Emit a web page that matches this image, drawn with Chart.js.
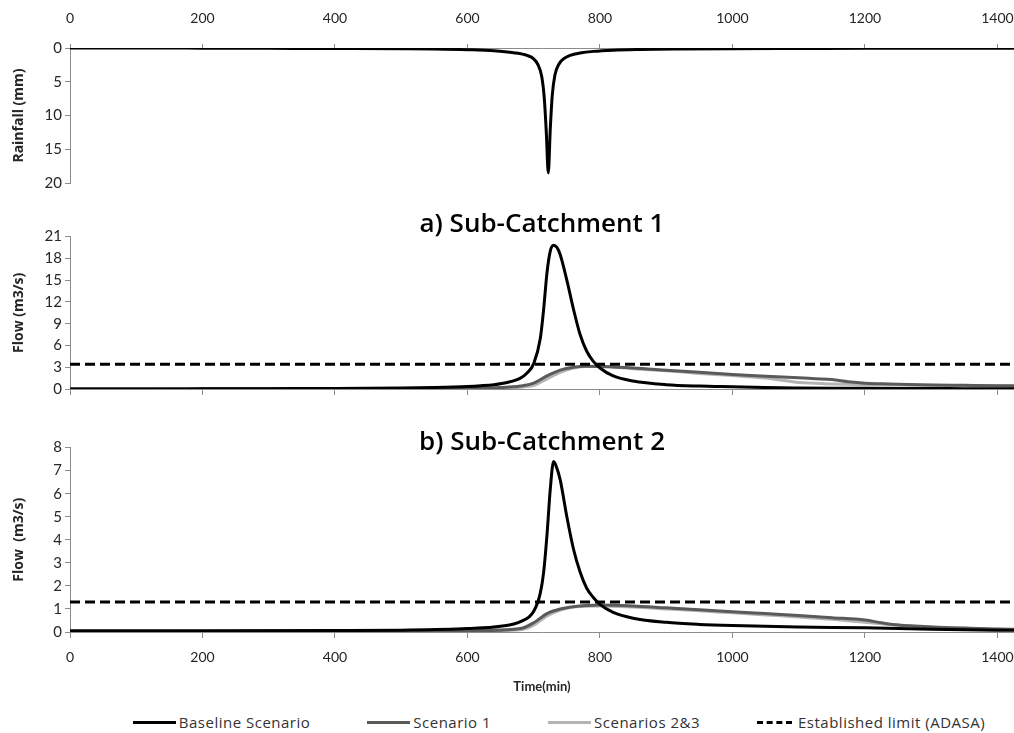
<!DOCTYPE html>
<html>
<head>
<meta charset="utf-8">
<script src="https://cdn.jsdelivr.net/npm/chart.js@4.4.1/dist/chart.umd.min.js"></script>
<style>
  html, body { margin: 0; padding: 0; background: #fff; }
  body { width: 1014px; height: 733px; position: relative; overflow: hidden; font-family: "Open Sans", Lato, sans-serif; }
  .box { position: absolute; left: 0; width: 1014px; }
  #rainBox { top: 0; height: 192px; }
  #sc1Box { top: 192px; height: 210px; }
  #sc2Box { top: 402px; height: 298px; }
  #legend { position: absolute; top: 712px; left: 52px; width: 1014px; display: flex; justify-content: center; gap: 57px; font-size: 15px; letter-spacing: 0.5px; color: #333; }
  #legend .item { display: flex; align-items: center; }
  #legend .swatch { width: 43px; height: 0; margin-right: 3px; }
</style>
</head>
<body>
<div class="box" id="rainBox"><canvas id="rainChart"></canvas></div>
<div class="box" id="sc1Box"><canvas id="sc1Chart"></canvas></div>
<div class="box" id="sc2Box"><canvas id="sc2Chart"></canvas></div>
<div id="legend"></div>
<script>
// rainfall (mm)
const rainTime = [0, 100, 200, 300, 400, 500, 550, 600, 640, 670, 690, 700, 706, 712, 716, 719, 722, 725, 728, 732, 738, 745, 755, 770, 790, 820, 860, 920, 1000, 1100, 1200, 1300, 1440];
const rainValues = [0, 0, 0.02, 0.05, 0.08, 0.12, 0.16, 0.25, 0.4, 0.7, 1.1, 1.6, 2.4, 4.2, 7.5, 12.5, 18.5, 12, 7, 4, 2.4, 1.6, 1.1, 0.75, 0.5, 0.32, 0.22, 0.15, 0.1, 0.07, 0.05, 0.03, 0.02];

// sub-catchment 1 flow (m3/s)
const sc1BaseTime = [0, 100, 200, 300, 400, 500, 550, 600, 620, 640, 660, 680, 690, 700, 710, 715, 720, 725, 730, 735, 740, 750, 760, 770, 780, 790, 800, 820, 850, 900, 950, 1000, 1050, 1100, 1150, 1200, 1250, 1300, 1350, 1400, 1440];
const sc1Base = [0, 0, 0.02, 0.05, 0.08, 0.15, 0.22, 0.35, 0.45, 0.6, 0.9, 1.5, 2.2, 3.5, 7, 11, 16, 19, 19.8, 19.5, 18.5, 15, 11, 7.5, 5.2, 3.8, 2.9, 1.8, 1.1, 0.6, 0.4, 0.3, 0.2, 0.15, 0.12, 0.1, 0.08, 0.06, 0.05, 0.04, 0.03];
const sc1ScenTime = [0, 300, 500, 600, 650, 680, 700, 720, 740, 760, 780, 800, 850, 900, 950, 1000, 1050, 1075, 1100, 1125, 1150, 1175, 1200, 1225, 1250, 1300, 1350, 1400, 1440];
const sc1Scen1 = [0, 0.02, 0.05, 0.1, 0.2, 0.4, 0.8, 1.8, 2.6, 3.0, 3.15, 3.1, 2.9, 2.6, 2.3, 2.0, 1.75, 1.65, 1.55, 1.42, 1.3, 1.0, 0.8, 0.72, 0.65, 0.55, 0.5, 0.45, 0.42];
const sc1Scen23 = [0, 0.02, 0.04, 0.08, 0.12, 0.25, 0.5, 1.4, 2.3, 2.9, 3.1, 3.1, 2.8, 2.5, 2.15, 1.85, 1.5, 1.2, 0.9, 0.8, 0.7, 0.65, 0.6, 0.57, 0.55, 0.5, 0.45, 0.4, 0.38];
const sc1Limit = [3.4, 3.4];

// sub-catchment 2 flow (m3/s)
const sc2BaseTime = [0, 200, 400, 500, 600, 650, 680, 700, 710, 715, 720, 725, 730, 735, 740, 750, 760, 770, 780, 790, 800, 820, 850, 900, 950, 1000, 1100, 1200, 1300, 1400, 1440];
const sc2Base = [0.05, 0.05, 0.06, 0.08, 0.15, 0.25, 0.45, 0.9, 1.7, 2.6, 4.2, 6.2, 7.4, 7.1, 6.6, 5.0, 3.6, 2.6, 1.9, 1.5, 1.2, 0.85, 0.6, 0.42, 0.33, 0.28, 0.22, 0.18, 0.12, 0.08, 0.07];
const sc2ScenTime = [0, 400, 600, 680, 700, 720, 740, 760, 780, 800, 850, 900, 950, 1000, 1050, 1100, 1150, 1200, 1225, 1250, 1300, 1350, 1400, 1440];
const sc2Scen1 = [0.02, 0.03, 0.05, 0.15, 0.4, 0.8, 1.0, 1.1, 1.15, 1.17, 1.13, 1.05, 0.97, 0.88, 0.8, 0.72, 0.62, 0.52, 0.4, 0.3, 0.22, 0.17, 0.13, 0.12];
const sc2Scen23 = [0.02, 0.03, 0.04, 0.1, 0.3, 0.7, 0.95, 1.08, 1.12, 1.13, 1.08, 1.0, 0.92, 0.83, 0.74, 0.65, 0.55, 0.42, 0.36, 0.3, 0.22, 0.16, 0.12, 0.11];
const sc2Limit = [1.3, 1.3];

const limitTime = [0, 1440];
const xTicks = [0, 200, 400, 600, 800, 1000, 1200, 1400];
const seriesNames = ["Baseline Scenario", "Scenario 1", "Scenarios 2&3", "Established limit (ADASA)"];

const colors = ["#000000", "#5a5a5a", "#b4b4b4", "#000000"];
const axisGray = "#8c8c8c";
const textColor = "#262626";
const tickFont = "Lato, 'Open Sans', sans-serif";
const titleFont = "'Open Sans', Lato, sans-serif";

function pts(xs, ys) {
  return xs.map((x, i) => ({ x: x, y: ys[i] }));
}

function fixY(scale) {
  scale.width = 70;
  scale.paddingTop = 0;
  scale.paddingBottom = 0;
}
function fixX(h) {
  return function (scale) {
    scale.height = h;
    scale.paddingLeft = 0;
    scale.paddingRight = 0;
  };
}

function xAxis(position, height, showLabels, tickLen, pad) {
  return {
    type: "linear",
    position: position,
    min: 0,
    max: 1425,
    afterBuildTicks: (scale) => { scale.ticks = xTicks.map((v) => ({ value: v })); },
    ticks: {
      display: showLabels,
      padding: pad,
      color: textColor,
      font: { family: tickFont, size: 14 },
      callback: (v) => String(v),
      maxRotation: 0,
      autoSkip: false,
    },
    grid: { drawOnChartArea: false, drawTicks: true, tickLength: tickLen, color: axisGray },
    border: { color: axisGray, width: 1 },
    afterFit: fixX(height),
  };
}

function yAxis(title, min, max, step, reverse) {
  return {
    min: min,
    max: max,
    reverse: reverse,
    ticks: { stepSize: step, padding: 3, color: textColor, font: { family: tickFont, size: 15 } },
    grid: { drawOnChartArea: false, drawTicks: true, tickLength: 5, color: axisGray },
    border: { color: axisGray, width: 1 },
    title: { display: true, text: title, color: textColor, font: { family: titleFont, size: 14, weight: "bold" }, padding: { top: 11, bottom: 0 } },
    afterFit: fixY,
  };
}

function line(label, data, color, order, dash) {
  return {
    label: label,
    data: data,
    borderColor: color,
    backgroundColor: color,
    borderWidth: 3,
    borderDash: dash || [],
    pointRadius: 0,
    cubicInterpolationMode: "monotone",
    fill: false,
    order: order,
  };
}

const common = {
  responsive: true,
  maintainAspectRatio: false,
  animation: false,
  events: [],
};

// rainfall
new Chart(document.getElementById("rainChart"), {
  type: "line",
  data: {
    datasets: [line("Rainfall", pts(rainTime, rainValues), "#000000", 0)],
  },
  options: {
    ...common,
    layout: { padding: { top: 0, right: 0, bottom: 9, left: 0 } },
    plugins: { legend: { display: false }, title: { display: false } },
    scales: {
      x: xAxis("top", 48, true, 4, 17),
      y: yAxis("Rainfall (mm)", 0, 20, 5, true),
    },
  },
});

function flowChart(id, title, titlePad, base, scen1, scen23, limit, yMax, yStep, yTitle, xBottom) {
  return new Chart(document.getElementById(id), {
    type: "line",
    data: {
      datasets: [
        line(seriesNames[0], base, colors[0], 1),
        line(seriesNames[1], scen1, colors[1], 2),
        line(seriesNames[2], scen23, colors[2], 3),
        line(seriesNames[3], limit, colors[3], 0, [10, 5]),
      ],
    },
    options: {
      ...common,
      layout: { padding: 0 },
      plugins: {
        legend: { display: false },
        title: {
          display: true,
          text: title,
          fullSize: false,
          color: "#000",
          font: { family: titleFont, size: 26, weight: 600 },
          padding: titlePad,
        },
      },
      scales: {
        x: xBottom,
        y: yAxis(yTitle, 0, yMax, yStep, false),
      },
    },
  });
}

flowChart(
  "sc1Chart", "a) Sub-Catchment 1", { top: 17, bottom: -3.6 },
  pts(sc1BaseTime, sc1Base), pts(sc1ScenTime, sc1Scen1), pts(sc1ScenTime, sc1Scen23), pts(limitTime, sc1Limit),
  21, 3, "Flow (m3/s)", xAxis("bottom", 13, false, 6, 0)
);

const x3 = xAxis("bottom", 68, true, 6, 11);
x3.title = { display: true, text: "Time(min)", color: textColor, font: { family: tickFont, size: 13, weight: "bold" }, padding: { top: 0, bottom: 5 } };
flowChart(
  "sc2Chart", "b) Sub-Catchment 2", { top: 25, bottom: -10.6 },
  pts(sc2BaseTime, sc2Base), pts(sc2ScenTime, sc2Scen1), pts(sc2ScenTime, sc2Scen23), pts(limitTime, sc2Limit),
  8, 1, "Flow  (m3/s)", x3
);

// legend
const legend = document.getElementById("legend");
seriesNames.forEach((name, i) => {
  const item = document.createElement("div");
  item.className = "item";
  const sw = document.createElement("span");
  sw.className = "swatch";
  sw.style.borderTop = "3px " + (i === 3 ? "dashed " : "solid ") + colors[i];
  if (i === 3) { sw.style.width = "35px"; sw.style.marginRight = "6px"; }
  const txt = document.createElement("span");
  txt.textContent = name;
  item.appendChild(sw);
  item.appendChild(txt);
  legend.appendChild(item);
});
</script>
</body>
</html>
